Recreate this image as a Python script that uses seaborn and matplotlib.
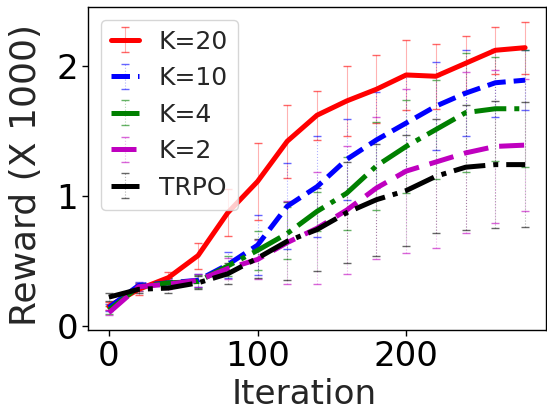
import numpy as np
import matplotlib
matplotlib.use("Agg")
import matplotlib.pyplot as plt
import seaborn as sns

iterations = [0, 20, 40, 60, 80, 100, 120, 140, 160, 180, 200, 220, 240, 260, 280]

k20 = [0.15, 0.28, 0.37, 0.54, 0.87, 1.11, 1.42, 1.62, 1.73, 1.82, 1.93, 1.92, 2.02, 2.12, 2.14]
k20_err = [0.03, 0.04, 0.04, 0.10, 0.18, 0.30, 0.28, 0.19, 0.27, 0.26, 0.27, 0.25, 0.21, 0.18, 0.20]

k10 = [0.14, 0.31, 0.33, 0.35, 0.47, 0.62, 0.92, 1.07, 1.28, 1.43, 1.56, 1.69, 1.79, 1.87, 1.89]
k10_err = [0.03, 0.03, 0.04, 0.05, 0.10, 0.23, 0.33, 0.39, 0.31, 0.37, 0.36, 0.34, 0.33, 0.26, 0.23]

k4 = [0.12, 0.30, 0.33, 0.34, 0.46, 0.58, 0.71, 0.88, 1.02, 1.23, 1.38, 1.51, 1.64, 1.67, 1.67]
k4_err = [0.03, 0.03, 0.04, 0.05, 0.08, 0.15, 0.20, 0.15, 0.28, 0.34, 0.36, 0.38, 0.46, 0.40, 0.45]

k2 = [0.10, 0.30, 0.32, 0.35, 0.44, 0.51, 0.64, 0.75, 0.89, 1.06, 1.19, 1.26, 1.33, 1.38, 1.39]
k2_err = [0.02, 0.03, 0.04, 0.05, 0.08, 0.15, 0.32, 0.43, 0.49, 0.55, 0.63, 0.66, 0.62, 0.59, 0.51]

trpo = [0.22, 0.28, 0.29, 0.33, 0.40, 0.52, 0.65, 0.74, 0.87, 0.97, 1.04, 1.15, 1.22, 1.24, 1.24]
trpo_err = [0.03, 0.03, 0.04, 0.05, 0.08, 0.15, 0.30, 0.32, 0.39, 0.43, 0.43, 0.44, 0.48, 0.49, 0.48]

labels = ["K=20", "K=10", "K=4", "K=2", "TRPO"]

sns.set_theme(style="ticks")
plt.rcParams['font.family'] = ['DejaVu Sans']

fig = plt.figure(figsize=(5.47, 4.12), dpi=100)
ax = fig.add_axes([0.161, 0.199, 0.837, 0.784])

series = [k20, k10, k4, k2, trpo]
errs = [k20_err, k10_err, k4_err, k2_err, trpo_err]
colors = ["#ff0000", "#0000ff", "#008000", "#bf00bf", "#000000"]
styles = ["-", "--", "-.", (0, (5, 2.2)), "-."]

for y, e, c, ls, lab in zip(series, errs, colors, styles, labels):
    eb = ax.errorbar(iterations, y, yerr=e, color=c, linestyle=ls, linewidth=3.6,
                     elinewidth=0.8, capsize=3, capthick=1, label=lab)
    for bar in eb[2]:
        bar.set_alpha(0.3)
        if ls != "-":
            bar.set_linestyle(":")
    for cap in eb[1]:
        cap.set_alpha(0.6)

ax.set_xticks([0, 100, 200])
ax.set_yticks([0, 1, 2])
ax.tick_params(axis='both', labelsize=24.5, direction='out', length=4, width=1, colors='black', pad=3)
for s in ax.spines.values():
    s.set_color('black')
    s.set_linewidth(1)
ax.set_xlabel("Iteration", fontsize=24.6)
ax.set_ylabel("Reward (X 1000)", fontsize=26)
ax.xaxis.set_label_coords(0.472, -0.148)
ax.yaxis.set_label_coords(-0.098, 0.48)
ax.legend(loc="upper left", fontsize=18, handlelength=1.12, handletextpad=0.8,
          labelspacing=0.5, frameon=True, borderaxespad=0.5)

fig.savefig("out.png", dpi=100)
